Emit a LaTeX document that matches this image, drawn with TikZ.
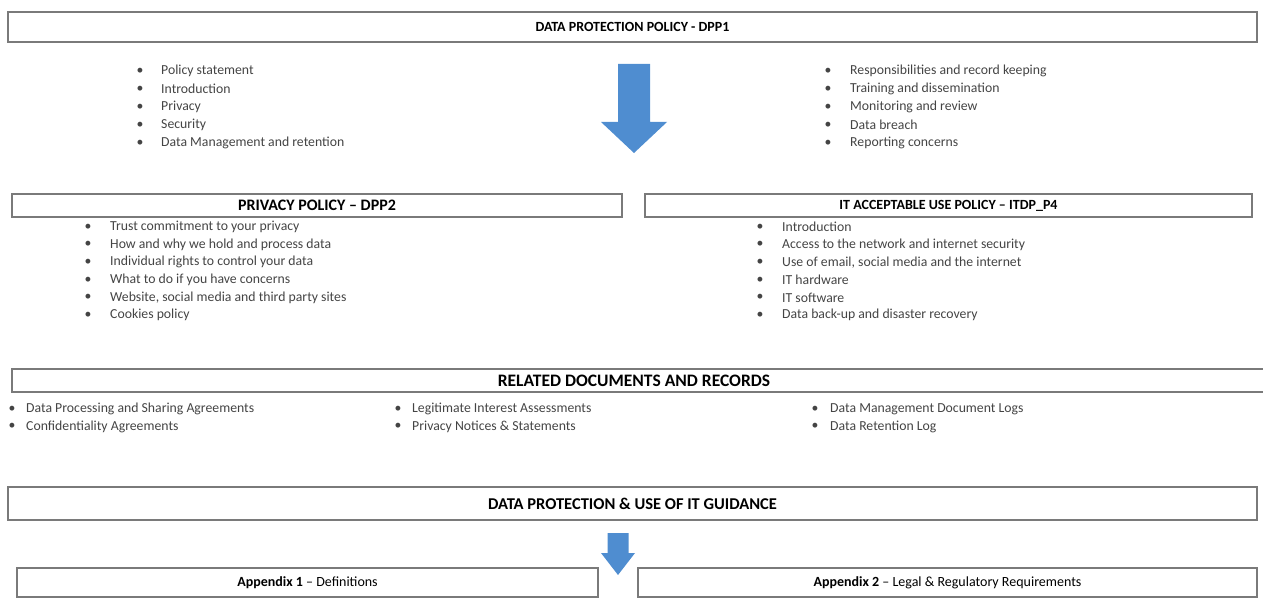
\documentclass[tikz,border=0pt]{standalone}
\usepackage{fontspec}
\setmainfont{Carlito}
\definecolor{boxline}{HTML}{7A7A7A}
\definecolor{arrowblue}{HTML}{4F8DD0}
\definecolor{bodytext}{HTML}{444444}

\begin{document}
\begin{tikzpicture}[x=1pt,y=-1pt,
  titlebox/.style={draw=boxline, line width=1.8pt, fill=white, inner sep=0pt,
    font=\fontsize{14}{16}\selectfont\bfseries},
  item/.style={anchor=west, inner sep=0pt, text=bodytext,
    font=\fontsize{13.75}{16}\selectfont},
  dot/.style={inner sep=0pt, text=bodytext, font=\fontsize{13.75}{16}\selectfont},
  blockarrow/.style={fill=arrowblue, draw=none}
]
\useasboundingbox (0,0) rectangle (1263,599);

% main policy box
\node[titlebox, minimum width=1249pt, minimum height=30pt] (dpp1) at (632.5,27) {DATA PROTECTION POLICY - DPP1};

% contents of the main policy, two columns
\foreach \t [count=\i] in {Policy statement, Introduction, Privacy, Security, Data Management and retention} {
  \node[dot] (la\i) at (140,{53+18*\i}) {•};
  \node[item] (lt\i) at (161,{53+18*\i}) {\t};
}
\foreach \t [count=\i] in {Responsibilities and record keeping, Training and dissemination, Monitoring and review, Data breach, Reporting concerns} {
  \node[dot] (ra\i) at (828,{53+18*\i}) {•};
  \node[item] (rt\i) at (850,{53+18*\i}) {\t};
}

% big block arrow below the main policy
\coordinate (bigtip) at (634,153);
\fill[blockarrow] (618,64) -- (650,64) -- (650,122) -- (667,122)
  -- (bigtip) -- (601,122) -- (618,122) -- cycle;

% the two subsidiary policies
\node[titlebox, minimum width=610pt, minimum height=23pt, font=\fontsize{16}{18}\selectfont\bfseries] (dpp2) at (317,205.5) {PRIVACY POLICY – DPP2};
\node[titlebox, minimum width=607pt, minimum height=23pt] (itdp) at (948.5,205.5) {IT ACCEPTABLE USE POLICY – ITDP\_P4};

\foreach \t [count=\i] in {Trust commitment to your privacy, How and why we hold and process data, Individual rights to control your data, What to do if you have concerns, {Website, social media and third party sites}, Cookies policy} {
  \node[dot] (pa\i) at (88,{209.5+17.6*\i}) {•};
  \node[item] (pt\i) at (110,{209.5+17.6*\i}) {\t};
}
\foreach \t [count=\i] in {Introduction, Access to the network and internet security, {Use of email, social media and the internet}, IT hardware, IT software, Data back-up and disaster recovery} {
  \node[dot] (ia\i) at (760,{209.5+17.6*\i}) {•};
  \node[item] (it\i) at (782,{209.5+17.6*\i}) {\t};
}

% related documents
\node[titlebox, minimum width=1256pt, minimum height=23pt] (rel) at (640,380.5) {};
\node[inner sep=0pt, font=\fontsize{17.5}{18}\selectfont\bfseries] (reltitle) at (634,380.5) {RELATED DOCUMENTS AND RECORDS};

\node[dot] (ra1) at (12,409) {•};  \node[item] (rd1) at (26,409) {Data Processing and Sharing Agreements};
\node[dot] (ra2) at (12,426.5) {•};  \node[item] (rd2) at (26,426.5) {Confidentiality Agreements};
\node[dot] (rb1) at (398,409) {•}; \node[item] (rd3) at (412,409) {Legitimate Interest Assessments};
\node[dot] (rb2) at (398,426.5) {•}; \node[item] (rd4) at (412,426.5) {Privacy Notices \& Statements};
\node[dot] (rc1) at (815,409) {•}; \node[item] (rd5) at (830,409) {Data Management Document Logs};
\node[dot] (rc2) at (815,426.5) {•}; \node[item] (rd6) at (830,426.5) {Data Retention Log};

% guidance and its appendices
\node[titlebox, minimum width=1249pt, minimum height=33pt, font=\fontsize{16.5}{18}\selectfont\bfseries] (guide) at (632.5,503.5) {DATA PROTECTION \& USE OF IT GUIDANCE};

\coordinate (smalltip) at (618,575);
\fill[blockarrow] (607.5,533) -- (628.5,533) -- (628.5,553) -- (635,553)
  -- (smalltip) -- (601,553) -- (607.5,553) -- cycle;

\node[titlebox, minimum width=581pt, minimum height=29pt, font=\fontsize{14}{16}\selectfont] (app1) at (307.5,582.5) {\textbf{Appendix 1} – Definitions};
\node[titlebox, minimum width=619pt, minimum height=29pt, font=\fontsize{14}{16}\selectfont] (app2) at (947.5,582.5) {\textbf{Appendix 2} – Legal \& Regulatory Requirements};
\end{tikzpicture}
\end{document}
